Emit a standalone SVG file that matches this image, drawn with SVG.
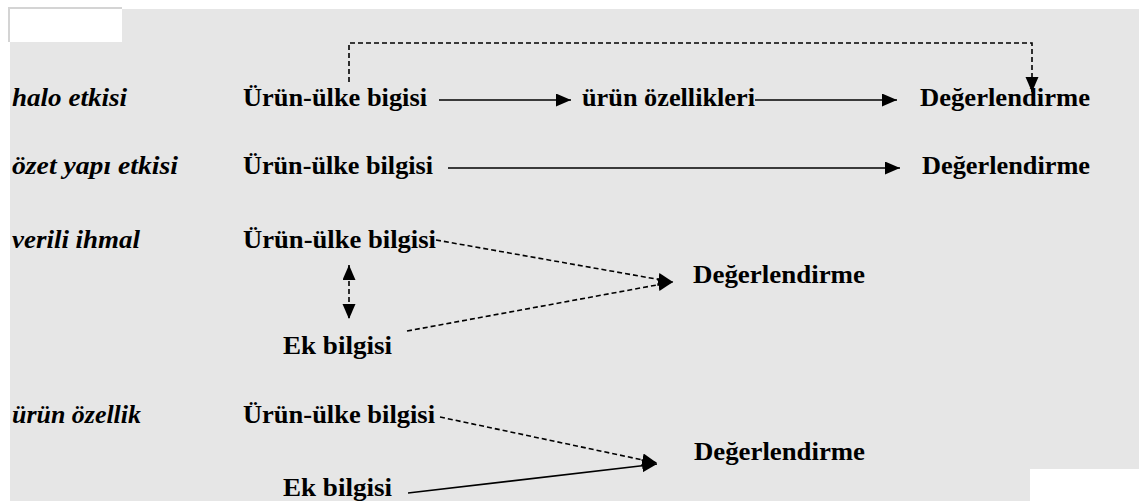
<svg xmlns="http://www.w3.org/2000/svg" width="1139" height="501" viewBox="0 0 1139 501">
<style>
text{font-family:"Liberation Serif",serif;font-size:26px;font-weight:bold;fill:#000}
.it{font-style:italic}
.ln{stroke:#000;stroke-width:1.6;fill:none}
.dash{stroke-dasharray:5 3}
</style>
<defs>
<marker id="ah" markerUnits="userSpaceOnUse" markerWidth="16" markerHeight="14" refX="15" refY="6.5" orient="auto-start-reverse"><path d="M0,0 L15,6.5 L0,13 z" fill="#000"/></marker>
</defs>
<rect x="0" y="0" width="1139" height="501" fill="#fff"/>
<rect x="10" y="9" width="1129" height="492" fill="#e6e6e6"/>
<rect x="8" y="7" width="114" height="2" fill="#d4d4d4"/>
<rect x="8" y="7" width="2" height="35" fill="#d4d4d4"/>
<rect x="10" y="9" width="112" height="33" fill="#fff"/>
<rect x="1030" y="469" width="109" height="32" fill="#fff"/>
<g id="labels">
<text class="it" x="12" y="106" textLength="115" lengthAdjust="spacingAndGlyphs">halo etkisi</text>
<text class="it" x="12" y="174" textLength="166" lengthAdjust="spacingAndGlyphs">özet yapı etkisi</text>
<text class="it" x="12" y="248" textLength="128" lengthAdjust="spacingAndGlyphs">verili ihmal</text>
<text class="it" x="12" y="423" textLength="129" lengthAdjust="spacingAndGlyphs">ürün özellik</text>
</g>
<g id="r1-src"><text x="243" y="106" textLength="184" lengthAdjust="spacingAndGlyphs">Ürün-ülke bigisi</text></g>
<g id="r1-mid"><text x="582" y="106" textLength="173" lengthAdjust="spacingAndGlyphs">ürün özellikleri</text></g>
<g id="r1-dst"><text x="920" y="106" textLength="170" lengthAdjust="spacingAndGlyphs">Değerlendirme</text></g>
<g id="r2-src"><text x="243" y="174" textLength="190" lengthAdjust="spacingAndGlyphs">Ürün-ülke bilgisi</text></g>
<g id="r2-dst"><text x="922" y="174" textLength="168" lengthAdjust="spacingAndGlyphs">Değerlendirme</text></g>
<g id="r3-src"><text x="243" y="248" textLength="193" lengthAdjust="spacingAndGlyphs">Ürün-ülke bilgisi</text></g>
<g id="r3-ek"><text x="283" y="354" textLength="109" lengthAdjust="spacingAndGlyphs">Ek bilgisi</text></g>
<g id="r3-dst"><text x="693" y="283" textLength="172" lengthAdjust="spacingAndGlyphs">Değerlendirme</text></g>
<g id="r4-src"><text x="243" y="423" textLength="192" lengthAdjust="spacingAndGlyphs">Ürün-ülke bilgisi</text></g>
<g id="r4-ek"><text x="283" y="496" textLength="109" lengthAdjust="spacingAndGlyphs">Ek bilgisi</text></g>
<g id="r4-dst"><text x="694" y="460" textLength="171" lengthAdjust="spacingAndGlyphs">Değerlendirme</text></g>
<g id="connectors">
<line class="ln" x1="439" y1="100" x2="571" y2="100" marker-end="url(#ah)"/>
<line class="ln" x1="755" y1="100" x2="897" y2="100" marker-end="url(#ah)"/>
<path class="ln dash" d="M349,82 V43 H1032 V92" marker-end="url(#ah)"/>
<line class="ln" x1="448" y1="168" x2="900" y2="168" marker-end="url(#ah)"/>
<line class="ln dash" x1="436" y1="240" x2="673" y2="282" marker-end="url(#ah)"/>
<line class="ln dash" x1="407" y1="331" x2="673" y2="282" marker-end="url(#ah)"/>
<line class="ln dash" x1="349" y1="265" x2="349" y2="319" marker-start="url(#ah)" marker-end="url(#ah)"/>
<line class="ln dash" x1="440" y1="417" x2="657" y2="463" marker-end="url(#ah)"/>
<line class="ln" x1="408" y1="493" x2="657" y2="464" marker-end="url(#ah)"/>
</g>
</svg>
